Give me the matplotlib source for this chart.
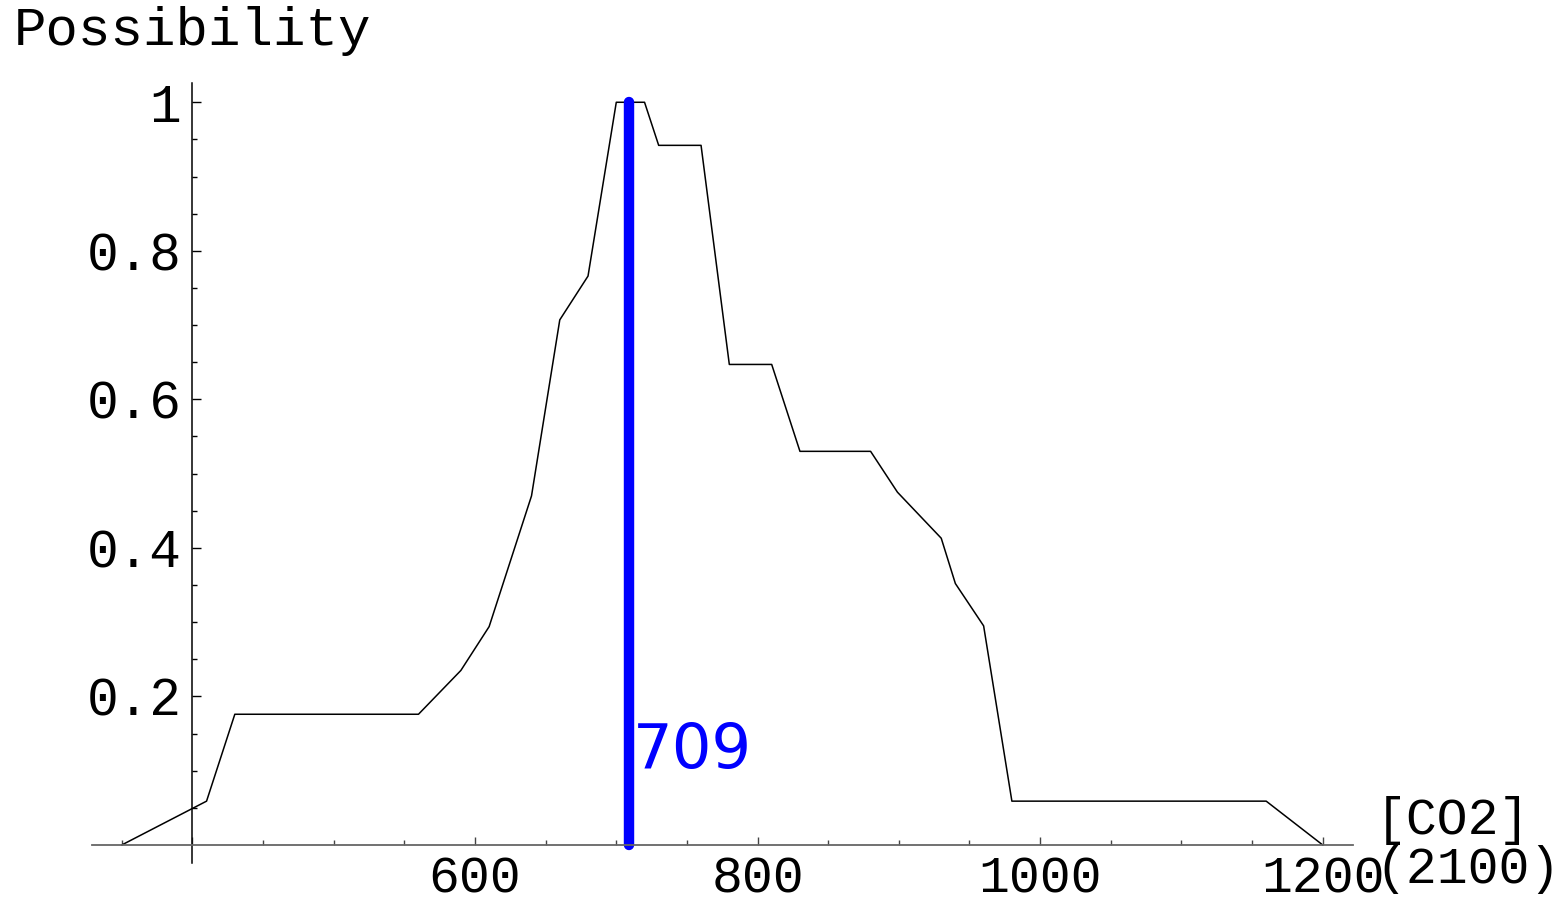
import matplotlib.pyplot as plt
from matplotlib.ticker import FixedLocator

# possibility curve for [CO2] in 2100
co2 = [350, 410, 430, 560, 590, 610, 640, 660, 680, 700, 720, 730, 760, 780,
       810, 830, 880, 899, 930, 940, 960, 980, 1160, 1200]
poss = [0.0, 0.059, 0.176, 0.176, 0.235, 0.294, 0.47, 0.707, 0.766, 1.0, 1.0,
        0.942, 0.942, 0.647, 0.647, 0.53, 0.53, 0.475, 0.413, 0.352, 0.295,
        0.059, 0.059, 0.0]

best = 709
x_major = [400, 600, 800, 1000, 1200]
x_labels = ['', '600', '800', '1000', '1200']
x_minor = [v for v in range(350, 1201, 50) if v not in x_major]
y_major = [0.2, 0.4, 0.6, 0.8, 1.0]
y_labels = ['0.2', '0.4', '0.6', '0.8', '1']
y_minor = [i * 0.05 for i in range(1, 21) if i % 4 != 0]

mono = 'Liberation Mono'

fig = plt.figure(figsize=(15.66, 9), dpi=100)
ax = fig.add_axes([0, 0, 1, 1])
ax.set_xlim(263.8, 1372.2)
ax.set_ylim(-0.0741, 1.1377)

ax.plot(co2, poss, color='black', lw=1.1)
ax.plot([best, best], [0, 1], color='#0000ff', lw=7.5, solid_capstyle='round')
ax.text(711.5, 0.127, str(best), color='#0000ff', fontsize=45,
        family='DejaVu Sans', ha='left', va='center')

# axes through (400, 0), Mathematica style
for s in ['top', 'right']:
    ax.spines[s].set_visible(False)
ax.spines['left'].set_position(('data', 400))
ax.spines['bottom'].set_position(('data', 0))
ax.spines['left'].set_bounds(-0.0242, 1.026)
ax.spines['bottom'].set_bounds(328.7, 1221.5)
ax.spines['left'].set_color('black')
ax.spines['bottom'].set_color('#666666')
ax.spines['left'].set_linewidth(1.1)
ax.spines['bottom'].set_linewidth(1.3)

ax.xaxis.set_major_locator(FixedLocator(x_major))
ax.xaxis.set_minor_locator(FixedLocator(x_minor))
ax.set_xticklabels(x_labels)
ax.yaxis.set_major_locator(FixedLocator(y_major))
ax.yaxis.set_minor_locator(FixedLocator(y_minor))
ax.set_yticklabels(y_labels)

ax.tick_params(axis='x', which='major', direction='in', length=6, width=1,
               color='#444444', pad=7, labelsize=37)
ax.tick_params(axis='x', which='minor', direction='in', length=3.5, width=1,
               color='#444444')
ax.tick_params(axis='y', which='major', direction='in', length=6.5, width=1,
               color='black', pad=8, labelsize=38)
ax.tick_params(axis='y', which='minor', direction='in', length=3.5, width=1,
               color='black')
for lab in ax.get_xticklabels() + ax.get_yticklabels():
    lab.set_family(mono)

ax.text(1237.5, 0.0, '[CO2]\n(2100)', family=mono, fontsize=37,
        ha='left', va='center', linespacing=1.0)
fig.text(14 / 1566, 1 - 6 / 900, 'Possibility', family=mono, fontsize=39,
         ha='left', va='top')

fig.savefig('out.png', dpi=100)
